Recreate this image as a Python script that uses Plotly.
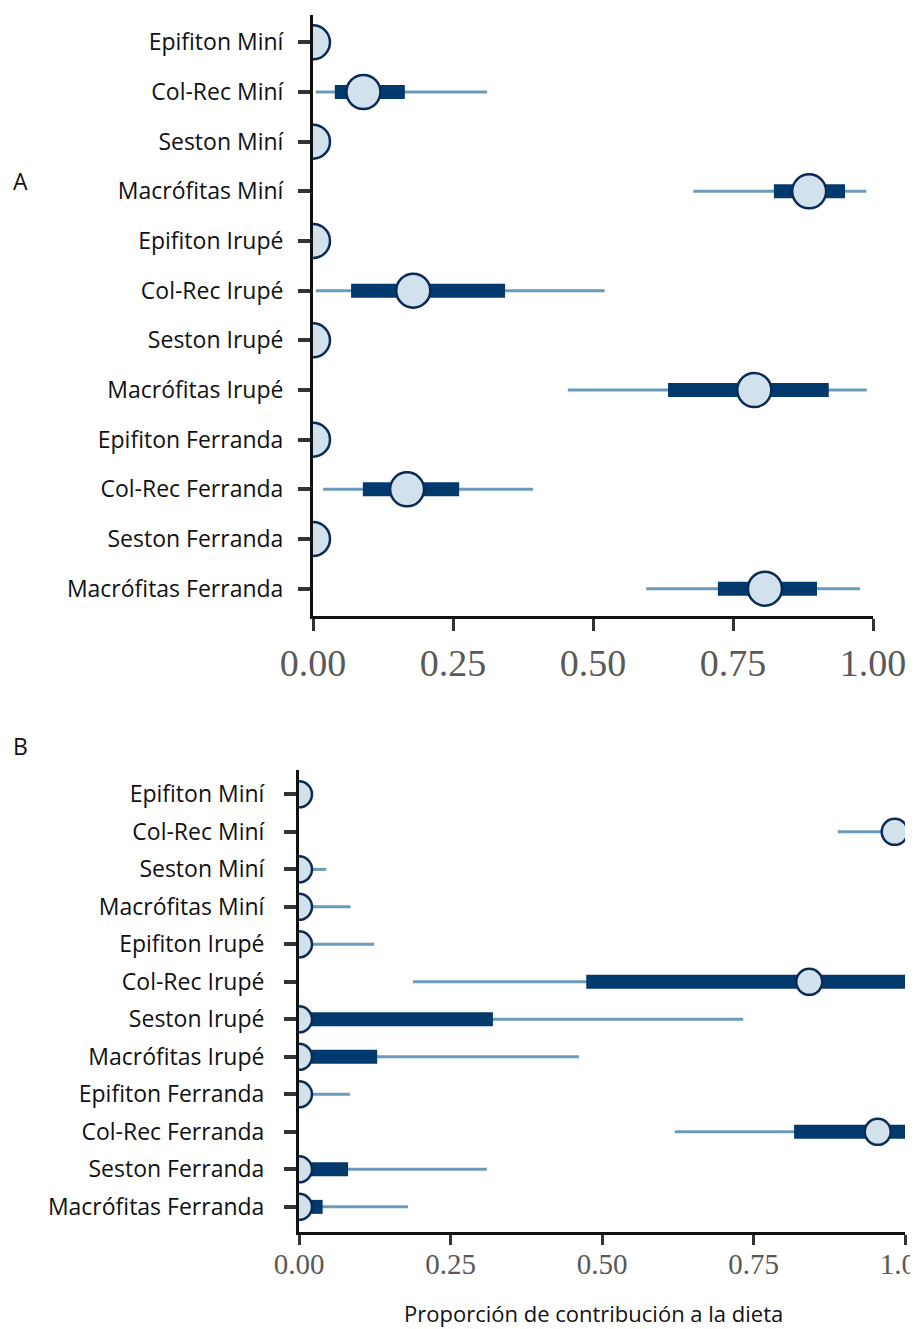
import plotly.graph_objects as go

categories = ["Epifiton Miní", "Col-Rec Miní", "Seston Miní", "Macrófitas Miní",
              "Epifiton Irupé", "Col-Rec Irupé", "Seston Irupé", "Macrófitas Irupé",
              "Epifiton Ferranda", "Col-Rec Ferranda", "Seston Ferranda", "Macrófitas Ferranda"]

# Panel A: median, 50% interval, 95% interval
a_med  = [0.0, 0.090, 0.0, 0.886, 0.0, 0.179, 0.0, 0.788, 0.0, 0.168, 0.0, 0.807]
a_lo50 = [0.0, 0.039, 0.0, 0.823, 0.0, 0.068, 0.0, 0.634, 0.0, 0.089, 0.0, 0.723]
a_hi50 = [0.002, 0.164, 0.002, 0.950, 0.002, 0.343, 0.002, 0.921, 0.002, 0.261, 0.002, 0.900]
a_lo95 = [0.0, 0.005, 0.0, 0.679, 0.0, 0.005, 0.0, 0.455, 0.0, 0.018, 0.0, 0.595]
a_hi95 = [0.004, 0.311, 0.004, 0.988, 0.004, 0.521, 0.004, 0.989, 0.004, 0.393, 0.004, 0.977]

# Panel B
b_med  = [0.0, 0.983, 0.0, 0.0, 0.0, 0.842, 0.0, 0.0, 0.0, 0.955, 0.0, 0.0]
b_lo50 = [0.0, 0.970, 0.0, 0.0, 0.0, 0.474, 0.0, 0.0, 0.0, 0.817, 0.0, 0.0]
b_hi50 = [0.003, 0.997, 0.008, 0.010, 0.010, 1.000, 0.320, 0.129, 0.010, 1.000, 0.081, 0.039]
b_lo95 = [0.0, 0.889, 0.0, 0.0, 0.0, 0.188, 0.0, 0.0, 0.0, 0.620, 0.0, 0.0]
b_hi95 = [0.006, 1.000, 0.045, 0.085, 0.124, 1.000, 0.733, 0.462, 0.084, 1.000, 0.310, 0.180]

xticks = [0, 0.25, 0.5, 0.75, 1.0]
xticklabels = ["0.00", "0.25", "0.50", "0.75", "1.00"]

THIN = "#6b9bb9"
THICK = "#033a6e"
EDGE = "#0b2a56"
FILL = "#d2e2ed"

# page body has an 8px margin: figure is drawn at offset (8, 8)
OFF = 8
W, H = 918, 1329


def px(x):
    return (x - OFF) / W


def py(y):
    return 1 - (y - OFF) / H


def segs(lo, hi):
    xs, ys = [], []
    for i, (a, b) in enumerate(zip(lo, hi)):
        xs += [a, b, None]
        ys += [i, i, None]
    return xs, ys


fig = go.Figure()


def add_panel(xa, ya, med, lo50, hi50, lo95, hi95, thick_w, thin_w, msize):
    x, y = segs(lo95, hi95)
    fig.add_trace(go.Scatter(x=x, y=y, mode="lines", line=dict(color=THIN, width=thin_w),
                             xaxis=xa, yaxis=ya, showlegend=False, hoverinfo="skip"))
    x, y = segs(lo50, hi50)
    fig.add_trace(go.Scatter(x=x, y=y, mode="lines", line=dict(color=THICK, width=thick_w),
                             xaxis=xa, yaxis=ya, showlegend=False, hoverinfo="skip"))
    fig.add_trace(go.Scatter(x=med, y=list(range(len(med))), mode="markers",
                             marker=dict(size=msize, color=FILL, line=dict(color=EDGE, width=2.5)),
                             xaxis=xa, yaxis=ya, showlegend=False, cliponaxis=True))


add_panel("x", "y", a_med, a_lo50, a_hi50, a_lo95, a_hi95, 14, 3, 34)
add_panel("x2", "y2", b_med, b_lo50, b_hi50, b_lo95, b_hi95, 14, 3, 26)

SANS = "Open Sans, Noto Sans, sans-serif"
label_font = dict(family=SANS, size=23, color="#111111")

fig.update_layout(
    width=W, height=H, margin=dict(l=0, r=0, t=0, b=0),
    plot_bgcolor="white", paper_bgcolor="white",
    xaxis=dict(domain=[px(313), px(873)], anchor="y", range=[0, 1], tickvals=xticks,
               ticktext=xticklabels, showgrid=False, zeroline=False, showline=True,
               linecolor="#111111", linewidth=2.5, ticks="outside", ticklen=12, tickwidth=2.5,
               tickcolor="#333333", automargin=False, ticklabeloverflow="allow",
               tickfont=dict(family="Liberation Serif, serif", size=38, color="#595959")),
    yaxis=dict(domain=[py(616), py(15)], anchor="x", range=[11.55, -0.55],
               tickvals=list(range(12)), ticktext=categories, showgrid=False, zeroline=False,
               showline=True, linecolor="#111111", linewidth=3, ticks="outside", ticklen=12,
               tickwidth=4, tickcolor="#333333", tickfont=label_font, ticklabelstandoff=10,
               automargin=False),
    xaxis2=dict(domain=[px(299), px(905)], anchor="y2", range=[0, 1], tickvals=xticks,
                ticktext=xticklabels, showgrid=False, zeroline=False, showline=True,
                linecolor="#111111", linewidth=2.5, ticks="outside", ticklen=10, tickwidth=2.5,
                tickcolor="#333333", automargin=False, ticklabelstandoff=-6,
                ticklabeloverflow="allow",
                tickfont=dict(family="Liberation Serif, serif", size=29, color="#595959")),
    yaxis2=dict(domain=[py(1232), py(770)], anchor="x2", range=[11.67, -0.65],
                tickvals=list(range(12)), ticktext=categories, showgrid=False, zeroline=False,
                showline=True, linecolor="#111111", linewidth=3, ticks="outside", ticklen=12,
                tickwidth=4, tickcolor="#333333", tickfont=label_font, ticklabelstandoff=15,
                automargin=False),
)

fig.add_annotation(text="A", x=px(20), y=py(181), xref="paper", yref="paper",
                   xanchor="center", yanchor="middle",
                   showarrow=False, font=dict(family=SANS, size=23, color="#111111"))
fig.add_annotation(text="B", x=px(20), y=py(746), xref="paper", yref="paper",
                   xanchor="center", yanchor="middle",
                   showarrow=False, font=dict(family=SANS, size=23, color="#111111"))
fig.add_annotation(text="Proporción de contribución a la dieta", x=px(593), y=py(1313),
                   xref="paper", yref="paper", showarrow=False,
                   xanchor="center", yanchor="middle",
                   font=dict(family=SANS, size=22, color="#111111"))

fig.write_html("out.html")
